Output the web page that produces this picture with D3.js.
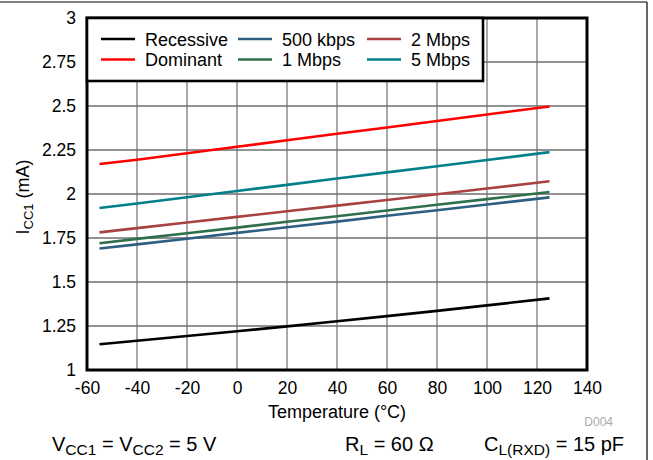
<!DOCTYPE html>
<html>
<head>
<meta charset="utf-8">
<script src="https://cdn.jsdelivr.net/npm/d3@7"></script>
<style>
  body { margin: 0; background: #fff; }
  svg { display: block; font-family: "Liberation Sans", Arial, sans-serif; }
</style>
</head>
<body>
<div id="chart"></div>
<script>
// temperatures (°C) the curves were read at
const temps = [-55, -40, -20, 0, 20, 40, 60, 80, 100, 125];

// supply current ICC1 (mA)
const recessive = [1.146, 1.166, 1.193, 1.220, 1.248, 1.277, 1.306, 1.336, 1.367, 1.407];
const dominant = [2.170, 2.195, 2.232, 2.268, 2.305, 2.342, 2.378, 2.415, 2.452, 2.497];
const kbps500 = [1.690, 1.714, 1.746, 1.779, 1.811, 1.843, 1.876, 1.908, 1.940, 1.981];
const mbps1 = [1.720, 1.745, 1.777, 1.809, 1.842, 1.874, 1.906, 1.939, 1.971, 2.011];
const mbps2 = [1.782, 1.806, 1.838, 1.870, 1.902, 1.934, 1.966, 1.999, 2.031, 2.072];
const mbps5 = [1.920, 1.946, 1.982, 2.017, 2.052, 2.088, 2.123, 2.158, 2.193, 2.238];

const xTicks = [-60, -40, -20, 0, 20, 40, 60, 80, 100, 120, 140];
const yTicks = [1, 1.25, 1.5, 1.75, 2, 2.25, 2.5, 2.75, 3];

const series = [
  { name: 'Recessive', values: recessive, color: '#000000' },
  { name: 'Dominant', values: dominant, color: '#ff0000' },
  { name: '500 kbps', values: kbps500, color: '#2f5f80' },
  { name: '1 Mbps', values: mbps1, color: '#2e6f4c' },
  { name: '2 Mbps', values: mbps2, color: '#a84242' },
  { name: '5 Mbps', values: mbps5, color: '#00808a' }
];

const W = 653, H = 460;
const margin = { top: 18, right: 66, bottom: 90, left: 87 };
const width = W - margin.left - margin.right;
const height = H - margin.top - margin.bottom;

const root = d3.select('#chart').append('svg').attr('width', W).attr('height', H);

// page frame (top and right edges)
root.append('line').attr('x1', 0).attr('x2', 647).attr('y1', 2).attr('y2', 2)
  .attr('stroke', '#000').attr('stroke-width', 1.2);
root.append('line').attr('x1', 647).attr('x2', 647).attr('y1', 2).attr('y2', H)
  .attr('stroke', '#000').attr('stroke-width', 1.2);

const svg = root.append('g').attr('transform', `translate(${margin.left},${margin.top})`);

const x = d3.scaleLinear().domain([-60, 140]).range([0, width]);
const y = d3.scaleLinear().domain([1, 3]).range([height, 0]);

// grid
svg.append('g')
  .selectAll('line')
  .data(xTicks)
  .enter()
  .append('line')
  .attr('x1', (d) => x(d)).attr('x2', (d) => x(d))
  .attr('y1', 0).attr('y2', height)
  .attr('stroke', '#6e6e6e').attr('stroke-width', 1.2);

svg.append('g')
  .selectAll('line')
  .data(yTicks)
  .enter()
  .append('line')
  .attr('x1', 0).attr('x2', width)
  .attr('y1', (d) => y(d)).attr('y2', (d) => y(d))
  .attr('stroke', '#6e6e6e').attr('stroke-width', 1.4);

// axes (labels only)
const xAxis = svg.append('g')
  .attr('transform', `translate(0,${height})`)
  .call(d3.axisBottom(x).tickValues(xTicks).tickSize(0).tickPadding(12).tickFormat((d) => String(d)));
const yAxis = svg.append('g')
  .call(d3.axisLeft(y).tickValues(yTicks).tickSize(0).tickPadding(11).tickFormat((d) => String(d)));
[xAxis, yAxis].forEach((a) => {
  a.select('.domain').remove();
  a.selectAll('text').attr('font-size', 17.5).attr('fill', '#000')
    .style('font-family', '"Liberation Sans", Arial, sans-serif');
});

// curves
const line = d3.line()
  .x((d) => x(d[0]))
  .y((d) => y(d[1]));

svg.append('g')
  .selectAll('path')
  .data(series)
  .enter()
  .append('path')
  .attr('d', (s) => line(temps.map((t, i) => [t, s.values[i]])))
  .attr('fill', 'none')
  .attr('stroke', (s) => s.color)
  .attr('stroke-width', 2.6);

// plot frame
svg.append('rect')
  .attr('x', 0).attr('y', 0).attr('width', width).attr('height', height)
  .attr('fill', 'none').attr('stroke', '#000').attr('stroke-width', 3);

// legend
const legend = svg.append('g');
legend.append('rect')
  .attr('x', 0).attr('y', 0).attr('width', 396).attr('height', 63)
  .attr('fill', '#fff').attr('stroke', '#000').attr('stroke-width', 2.6);

const colX = [14, 151, 280];
series.forEach((s, i) => {
  const col = Math.floor(i / 2), row = i % 2;
  const gx = colX[col], gy = 21 + row * 20.5;
  legend.append('line')
    .attr('x1', gx).attr('x2', gx + 34).attr('y1', gy).attr('y2', gy)
    .attr('stroke', s.color).attr('stroke-width', 2.6);
  legend.append('text')
    .attr('x', gx + 44).attr('y', gy + 6.5)
    .attr('font-size', 18)
    .text(s.name);
});

// axis titles
svg.append('text')
  .attr('x', width / 2).attr('y', height + 48)
  .attr('text-anchor', 'middle').attr('font-size', 18)
  .text('Temperature (°C)');

const yTitle = svg.append('text')
  .attr('transform', `translate(${29 - margin.left},${197 - margin.top}) rotate(-90)`)
  .attr('text-anchor', 'middle').attr('font-size', 18);
yTitle.append('tspan').text('I');
yTitle.append('tspan').attr('dy', 4).attr('font-size', 13).text('CC1');
yTitle.append('tspan').attr('dy', -4).text(' (mA)');

root.append('text')
  .attr('x', 613).attr('y', 426)
  .attr('text-anchor', 'end').attr('font-size', 12).attr('fill', '#a8a8a8')
  .text('D004');

// test conditions
function cond(xPos, parts) {
  const t = root.append('text').attr('x', xPos).attr('y', 451).attr('font-size', 20);
  let shifted = false;
  parts.forEach(([txt, sub]) => {
    const ts = t.append('tspan').text(txt);
    if (sub) {
      ts.attr('dy', 4).attr('font-size', 15.5);
      shifted = true;
    } else if (shifted) {
      ts.attr('dy', -4);
      shifted = false;
    }
  });
}
cond(52, [['V'], ['CC1', true], [' = V'], ['CC2', true], [' = 5 V']]);
cond(345, [['R'], ['L', true], [' = 60 Ω']]);
cond(484, [['C'], ['L(RXD)', true], [' = 15 pF']]);
</script>
</body>
</html>
